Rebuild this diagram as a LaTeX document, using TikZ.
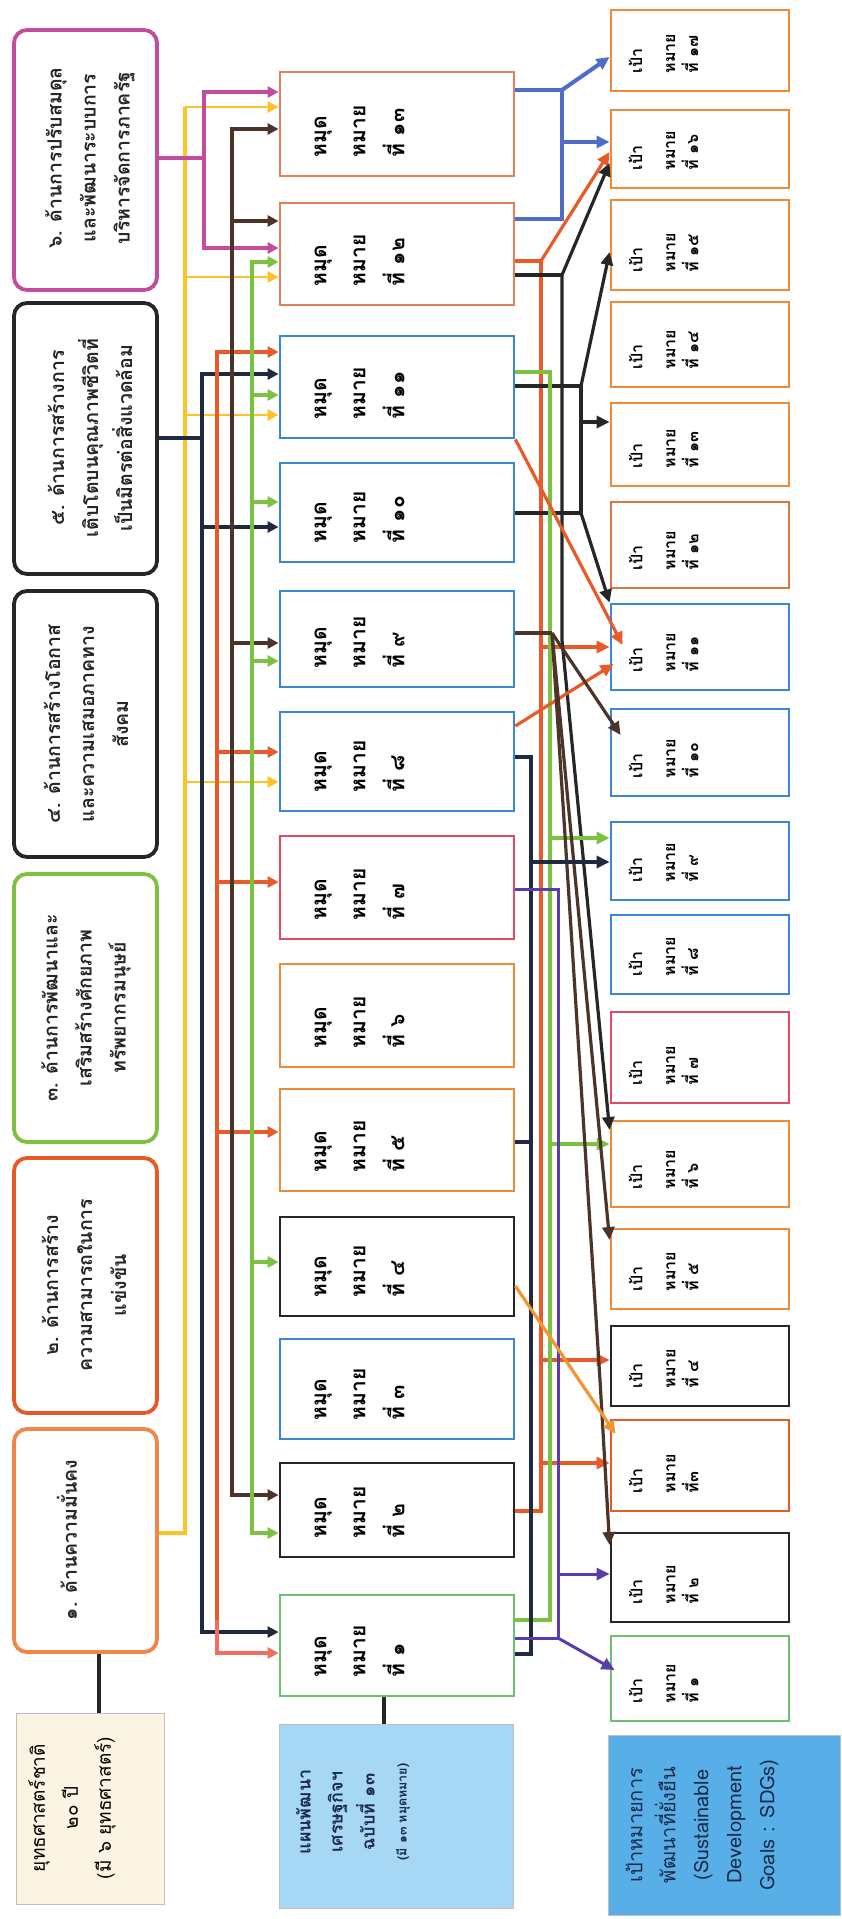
\documentclass[tikz,border=0pt]{standalone}
\usepackage{fontspec}
\usetikzlibrary{arrows.meta,calc}
\newfontfamily\thai[Script=Thai]{Loma}
\definecolor{sOrange}{HTML}{F0874A}
\definecolor{sRed}{HTML}{E65A26}
\definecolor{cGreen}{HTML}{7CC242}
\definecolor{cBlack}{HTML}{262626}
\definecolor{cPurple}{HTML}{C14D9C}
\definecolor{cBlue}{HTML}{3A86D8}
\definecolor{cPink}{HTML}{E24A66}
\definecolor{cOrange}{HTML}{EE8A38}
\definecolor{cSalmon}{HTML}{E28058}
\definecolor{cLGreen}{HTML}{6CC070}
\definecolor{cBrownOr}{HTML}{D8783E}
\definecolor{lYellow}{HTML}{FFC226}
\definecolor{lNavy}{HTML}{1F2A40}
\definecolor{lBrown}{HTML}{4D3429}
\definecolor{lBlue}{HTML}{4E6CC8}
\definecolor{lPurple}{HTML}{5A3DA8}
\definecolor{lOrange}{HTML}{F39530}
\definecolor{lRed}{HTML}{E85A28}
\definecolor{lSalmon}{HTML}{EF6F5E}
\definecolor{fBeige}{HTML}{FBF4E3}
\definecolor{fLBlue}{HTML}{A6D7F4}
\definecolor{fBlue}{HTML}{58AEE6}
\definecolor{tNavy}{HTML}{1B2B4B}
\begin{document}
\begin{tikzpicture}[x=1pt,y=-1pt,
  box/.style={rectangle, draw, line width=2.8pt, fill=white, inner sep=0pt},
  sbox/.style={box, rounded corners=13pt, line width=3.8pt},
  lgbox/.style={rectangle, draw=black!25, line width=1pt, inner sep=0pt},
  stxt/.style={rotate=90, align=center, inner sep=0pt, text=cBlack, font=\thai\bfseries\fontsize{19.5}{34}\selectfont},
  mtxt/.style={rotate=90, align=left, inner sep=0pt, font=\thai\bfseries\fontsize{21}{39}\selectfont},
  gtxt/.style={rotate=90, align=left, inner sep=0pt, font=\thai\bfseries\fontsize{16}{23}\selectfont},
  ln/.style={line width=3.2pt},
  tipS/.style={-{Triangle[length=11pt,width=11pt]}},
  tipR/.style={-{Triangle[length=13pt,width=12pt]}}]
\useasboundingbox[fill=white] (0,0) rectangle (842,1919);

% ---------- strategy boxes ----------
\node[sbox, draw=cPurple, minimum width=143pt, minimum height=260pt] (s6) at (85.5,160) {};
\node[sbox, draw=cBlack, minimum width=143pt, minimum height=271pt] (s5) at (85.5,438.5) {};
\node[sbox, draw=cBlack, minimum width=143pt, minimum height=266pt] (s4) at (85.5,724) {};
\node[sbox, draw=cGreen, minimum width=143pt, minimum height=268pt] (s3) at (85.5,1008) {};
\node[sbox, draw=sRed, minimum width=143pt, minimum height=255pt] (s2) at (85.5,1285.5) {};
\node[sbox, draw=sOrange, minimum width=143pt, minimum height=223pt] (s1) at (85.5,1540.5) {};
\node[stxt] (s6t) at (90,158) {๖. ด้านการปรับสมดุล\\และพัฒนาระบบการ\\บริหารจัดการภาครัฐ};
\node[stxt] (s5t) at (90,438) {๕. ด้านการสร้างการ\\เติบโตบนคุณภาพชีวิตที่\\เป็นมิตรต่อสิ่งแวดล้อม};
\node[stxt] (s4t) at (86,724) {๔. ด้านการสร้างโอกาส\\และความเสมอภาคทาง\\สังคม};
\node[stxt] (s3t) at (86,1008) {๓. ด้านการพัฒนาและ\\เสริมสร้างศักยภาพ\\ทรัพยากรมนุษย์};
\node[stxt] (s2t) at (84,1285) {๒. ด้านการสร้าง\\ความสามารถในการ\\แข่งขัน};
\node[stxt] (s1t) at (67,1540) {๑. ด้านความมั่นคง};

% ---------- legend boxes ----------
\node[lgbox, fill=fBeige, minimum width=148pt, minimum height=191pt] (l1) at (90,1808.5) {};
\node[rotate=90, align=center, inner sep=0pt, font=\thai\fontsize{19}{33}\selectfont] (l1t) at (72,1808) {ยุทธศาสตร์ชาติ\\๒๐ ปี\\(มี ๖ ยุทธศาสตร์)};
\node[lgbox, fill=fLBlue, minimum width=234pt, minimum height=184pt] (l2) at (396,1816) {};
\node[rotate=90, align=center, inner sep=0pt, text=tNavy, font=\thai\bfseries\fontsize{18}{32}\selectfont] (l2t) at (353,1812) {แผนพัฒนา\\เศรษฐกิจฯ\\ฉบับที่ ๑๓\\{\fontsize{12.5}{20}\selectfont (มี ๑๓ หมุดหมาย)}};
\node[lgbox, fill=fBlue, minimum width=232pt, minimum height=180pt] (l3) at (724,1825) {};
\node[rotate=90, align=center, inner sep=0pt, text=tNavy, font=\thai\fontsize{20}{33}\selectfont] (l3t) at (702,1825) {เป้าหมายการ\\พัฒนาที่ยั่งยืน\\(Sustainable\\Development\\Goals : SDGs)};

% ---------- milestone boxes ----------
\foreach \nm/\cl/\ya/\yb/\tx in {m13/cSalmon/72/176/๑๓, m12/cSalmon/203/305/๑๒, m11/cBlue/336/438/๑๑,
  m10/cBlue/463/562/๑๐, m9/cBlue/591/687/๙, m8/cBlue/712/811/๘, m7/cPink/836/939/๗,
  m6/cOrange/964/1067/๖, m5/cOrange/1089/1191/๕, m4/cBlack/1217/1316/๔, m3/cBlue/1339/1439/๓,
  m2/cBlack/1463/1557/๒, m1/cLGreen/1595/1696/๑}{
  \node[box, draw=\cl, minimum width=234pt, minimum height={(\yb-\ya)*1pt}] (\nm) at (397,{(\ya+\yb)/2}) {};
  \node[mtxt, anchor=west] (\nm t) at ([xshift=81pt,yshift=20pt]\nm.south west) {หมุด\\หมาย\\ที่ \tx};
}

% ---------- goal boxes ----------
\foreach \nm/\cl/\ya/\yb/\tx in {g17/cOrange/10/91/ที่ ๑๗, g16/cOrange/110/188/ที่ ๑๖, g15/cOrange/200/290/ที่ ๑๕,
  g14/cOrange/302/387/ที่ ๑๔, g13/cOrange/403/486/ที่ ๑๓, g12/cBrownOr/502/588/ที่ ๑๒,
  g11/cBlue/604/690/ที่ ๑๑, g10/cBlue/709/796/ที่ ๑๐, g9/cBlue/822/900/ที่ ๙, g8/cBlue/915/994/ที่ ๘,
  g7/cPink/1012/1103/ที่ ๗, g6/cOrange/1121/1207/ที่ ๖, g5/cOrange/1229/1309/ที่ ๕,
  g4/cBlack/1326/1406/ที่ ๔, g3/sRed/1420/1511/ที่๓, g2/cBlack/1533/1622/ที่ ๒, g1/cLGreen/1636/1721/ที่ ๑}{
  \node[box, draw=\cl, minimum width=178pt, minimum height={(\yb-\ya)*1pt}] (\nm) at (700,{(\ya+\yb)/2}) {};
  \node[gtxt, anchor=west] (\nm t) at ([xshift=54pt,yshift=19pt]\nm.south west) {เป้า\\[10pt]หมาย\\\tx};
}

% ---------- legend links ----------
\draw[cBlack, line width=4pt] (s1.south -| 99,0) -- (l1.north -| 99,0);
\draw[cBlack, line width=4pt] (m1.south -| 384,0) -- (l2.north -| 384,0);

% ---------- left buses ----------
% yellow: strategy 1
\draw[lYellow, line width=3.4pt] (s1.east |- 0,1533) -| (185,107);
\foreach \yy/\m in {107/m13,277/m12,415/m11,782/m8}
  \draw[lYellow, line width=2.6pt, tipS] (185,\yy) -- (\m.west |- 0,\yy);
% pink: strategy 6
\draw[cPurple, line width=3.6pt] (s6.east |- 0,158) -- (204,158);
\draw[cPurple, line width=3.6pt, tipS] (204,158) |- (m13.west |- 0,92);
\draw[cPurple, line width=3.6pt, tipS] (204,158) |- (m12.west |- 0,248);
% navy: strategy 5
\draw[ln, lNavy] (s5.east |- 0,438) -- (202,438);
\draw[ln, lNavy, tipS] (202,1000) -- (202,374) -- (m11.west |- 0,374);
\draw[ln, lNavy, tipS] (202,1000) -- (202,1632) -- (m1.west |- 0,1632);
\draw[ln, lNavy, tipS] (202,527) -- (m10.west |- 0,527);
% red-orange bus
\draw[ln, lRed, tipS] (217,1000) -- (217,352) -- (m11.west |- 0,352);
\draw[ln, lRed] (217,1000) -- (217,1625);
\draw[ln, lSalmon, tipS] (217,1620) -- (217,1653) -- (m1.west |- 0,1653);
\foreach \yy/\m in {752/m8,882/m7,1132/m5}
  \draw[ln, lRed, tipS] (217,\yy) -- (\m.west |- 0,\yy);
% dark brown bus
\draw[ln, lBrown, tipS] (232,800) -- (232,129) -- (m13.west |- 0,129);
\draw[ln, lBrown, tipS] (232,800) -- (232,1495) -- (m2.west |- 0,1495);
\foreach \yy/\m in {221/m12,643/m9}
  \draw[ln, lBrown, tipS] (232,\yy) -- (\m.west |- 0,\yy);
% green bus
\draw[ln, cGreen, tipS] (252,900) -- (252,262) -- (m12.west |- 0,262);
\draw[ln, cGreen, tipS] (252,900) -- (252,1533) -- (m2.west |- 0,1533);
\foreach \yy/\m in {395/m11,502/m10,661/m9,1262/m4}
  \draw[ln, cGreen, tipS] (252,\yy) -- (\m.west |- 0,\yy);

% ---------- right side ----------
% blue: M12, M13 -> G16, G17
\draw[lBlue, line width=4.4pt] (m13.east |- 0,90) -- (562,90) -- (562,219) -- (m12.east |- 0,219);
\draw[lBlue, line width=4pt, tipR] (562,142) -- (g16.west |- 0,142);
\draw[lBlue, line width=4pt, tipR] (562,90) -- (g17.west |- 0,57);
% red-orange: M12, M2 -> G16, G11, G4, G3
\draw[ln, lRed] (m12.east |- 0,261) -- (541,261) -- (541,1511) -- (m2.east |- 0,1511);
\draw[ln, lRed, tipR] (541,261) -- (g16.west |- 0,152);
\draw[ln, lRed, tipR] (541,647) -- (g11.west |- 0,647);
\draw[ln, lRed, tipR] (541,1360) -- (g4.west |- 0,1360);
\draw[ln, lRed, tipR] (541,1463) -- (g3.west |- 0,1463);
% black: M12 -> G16, G6
\draw[ln, cBlack] (m12.east |- 0,275) -- (562,275);
\draw[ln, cBlack, tipR] (562,275) -- (g16.west |- 0,163);
\draw[ln, cBlack, tipR] (562,275) -- (562,640) -- (g6.west |- 0,1130);
% black: M11, M10 -> G15, G13, G11
\draw[ln, cBlack] (m11.east |- 0,386) -- (581,386) -- (581,513) -- (m10.east |- 0,513);
\draw[ln, cBlack, tipR] (581,386) -- (g15.west |- 0,252);
\draw[ln, cBlack, tipR] (581,422) -- (g13.west |- 0,422);
\draw[ln, cBlack, tipR] (581,513) -- (g11.north west);
% green: M11, M1 -> G9, G6
\draw[ln, cGreen] (m11.east |- 0,372) -- (550,372) -- (550,1620) -- (m1.east |- 0,1620);
\draw[ln, cGreen, tipR] (550,838) -- (g9.west |- 0,838);
\draw[ln, cGreen, tipR] (550,1144) -- (g6.west |- 0,1144);
% red-orange diagonals into G11
\draw[ln, lRed, tipR] (m11.south east) -- ($(g11.west |- 0,645)+(13,0)$);
\draw[ln, lRed, tipR] (m8.east |- 0,726) -- ($(g11.west |- 0,664)+(4,0)$);
% brown: M9 -> G10, G5, G2
\draw[ln, lBrown] (m9.east |- 0,633) -- (552,633);
\draw[ln, lBrown, tipR] (552,633) -- ($(g10.west |- 0,735)+(11,0)$);
\draw[ln, lBrown, tipR] (552,633) -- (g5.west |- 0,1240);
\draw[ln, lBrown, tipR] (552,633) -- (600,1380) -- (g2.west |- 0,1545);
% navy: M8, M5, M1 -> G9
\draw[ln, lNavy] (m8.east |- 0,757) -- (531,757) -- (531,1654) -- (m1.east |- 0,1654);
\draw[ln, lNavy] (m5.east |- 0,1142) -- (531,1142);
\draw[ln, lNavy, tipR] (531,862) -- (g9.west |- 0,862);
% purple: M7, M1 -> G2, G1
\draw[lPurple, line width=3pt] (m7.east |- 0,889) -- (558,889) -- (558,1638) -- (m1.east |- 0,1638);
\draw[lPurple, line width=3pt, tipR] (558,1574) -- (g2.west |- 0,1574);
\draw[lPurple, line width=3pt, tipR] (558,1638) -- ($(g1.west |- 0,1670)+(5,0)$);
% orange: M4 -> G3
\draw[ln, lOrange, tipR] (m4.east |- 0,1286) -- ($(g3.west |- 0,1434)+(6,0)$);
\end{tikzpicture}
\end{document}
